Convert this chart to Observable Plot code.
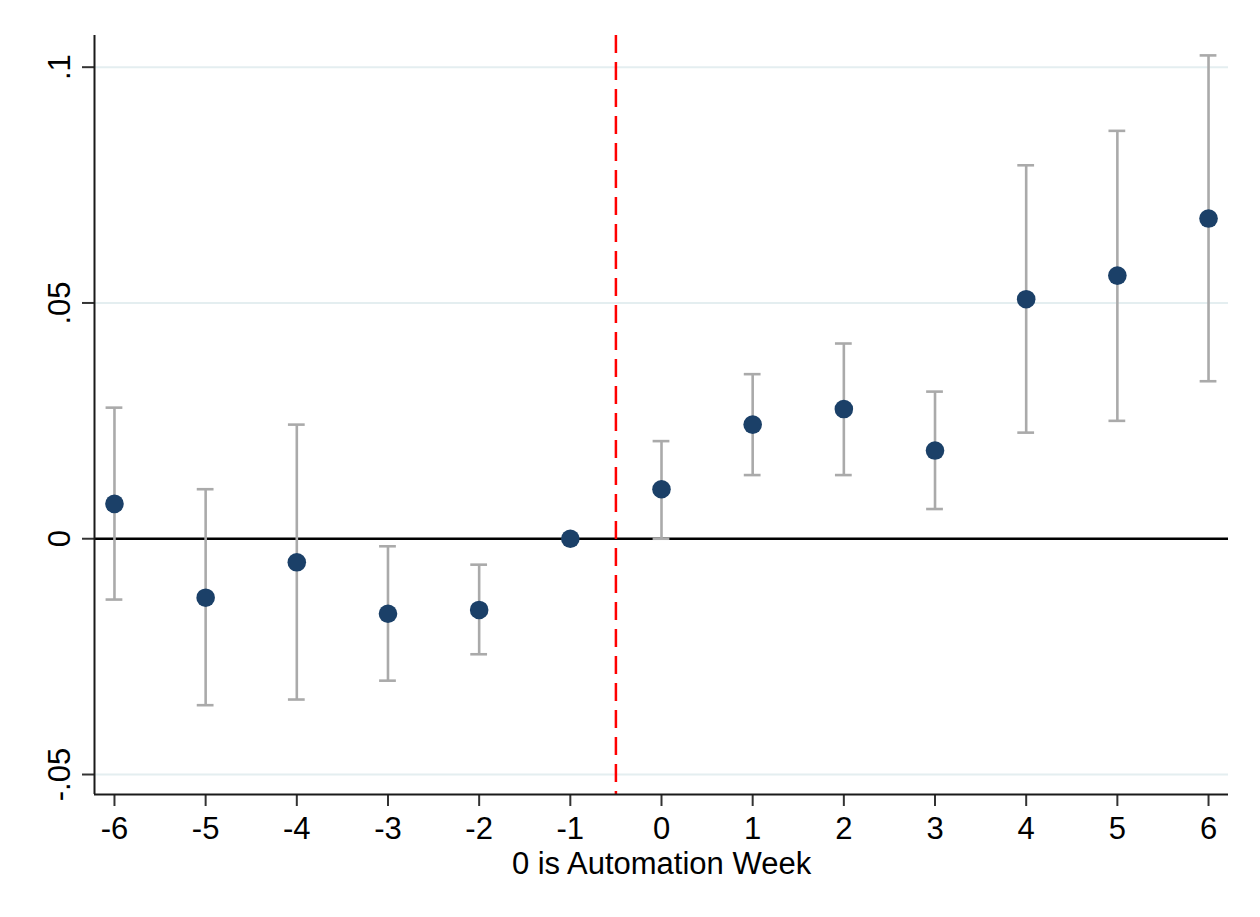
<!DOCTYPE html>
<html>
<head>
<meta charset="utf-8">
<script src="https://cdn.jsdelivr.net/npm/d3@7"></script>
<script src="https://cdn.jsdelivr.net/npm/@observablehq/plot@0.6"></script>
<style>
  html, body { margin: 0; padding: 0; background: #fff; }
  #chart svg { display: block; }
</style>
</head>
<body>
<div id="chart"></div>
<script>
// Event-study estimates
const weeks     = [-6, -5, -4, -3, -2, -1, 0, 1, 2, 3, 4, 5, 6];
const estimates = [0.0074, -0.0125, -0.0050, -0.0159, -0.0151, 0, 0.0105, 0.0242, 0.0275, 0.0187, 0.0508, 0.0558, 0.0679];
const ciLow     = [-0.0129, -0.0353, -0.0341, -0.0301, -0.0245, null, 0.0000, 0.0135, 0.0135, 0.0063, 0.0225, 0.0250, 0.0334];
const ciHigh    = [0.0278, 0.0105, 0.0242, -0.0016, -0.0055, null, 0.0207, 0.0349, 0.0414, 0.0312, 0.0792, 0.0865, 0.1025];
const yTicks    = [-0.05, 0, 0.05, 0.1];
const gridLines = [-0.05, 0.05, 0.1];
const eventLine = [-0.5];
const xLabel    = "0 is Automation Week";

const data = weeks.map((w, i) => ({week: w, est: estimates[i], lo: ciLow[i], hi: ciHigh[i]}));
const ci = data.filter(d => d.lo != null);

const capHalf = 0.092;
const font = "'Liberation Sans', Arial, Helvetica, sans-serif";
const fmt = d => d === 0 ? "0" : String(d).replace("0.", ".");

const chart = Plot.plot({
  width: 1260,
  height: 917,
  marginLeft: 94,
  marginRight: 32,
  marginTop: 35,
  marginBottom: 123,
  style: {fontFamily: font, fontSize: "31px", color: "#000", background: "#fff"},
  x: {domain: [-6.219, 6.219], ticks: weeks, label: null},
  y: {domain: [-0.05424, 0.10672], ticks: yTicks, label: null},
  marks: [
    Plot.ruleY(gridLines, {stroke: "#e4eef0", strokeWidth: 2}),
    Plot.ruleY([0], {stroke: "#000", strokeWidth: 2.4}),
    Plot.ruleX(eventLine, {stroke: "#ff0000", strokeWidth: 2.5, strokeDasharray: "18,9"}),
    Plot.ruleX(ci, {x: "week", y1: "lo", y2: "hi", stroke: "#aaaaaa", strokeWidth: 2.6}),
    Plot.ruleY(ci, {y: "lo", x1: d => d.week - capHalf, x2: d => d.week + capHalf, stroke: "#aaaaaa", strokeWidth: 2.6}),
    Plot.ruleY(ci, {y: "hi", x1: d => d.week - capHalf, x2: d => d.week + capHalf, stroke: "#aaaaaa", strokeWidth: 2.6}),
    Plot.dot(data, {x: "week", y: "est", r: 9.3, fill: "#1b4068", stroke: "none"}),
    Plot.axisX({ticks: weeks, tickSize: 12, tickPadding: 10, tickFormat: d => String(d), stroke: "#333", strokeWidth: 2, label: null, fontSize: 31}),
    Plot.axisY({ticks: yTicks, tickSize: 12, tickPadding: 13, tickRotate: -90, tickFormat: fmt, stroke: "#333", strokeWidth: 2, label: null, fontSize: 31}),
    Plot.ruleX([-6.219], {stroke: "#1a1a1a", strokeWidth: 2}),
    Plot.ruleY([-0.05424], {stroke: "#1a1a1a", strokeWidth: 2}),
    Plot.text([xLabel], {frameAnchor: "bottom", text: d => d, dy: 79, lineAnchor: "bottom", fontSize: 31, fill: "#000"})
  ]
});
document.getElementById("chart").appendChild(chart);
</script>
</body>
</html>
